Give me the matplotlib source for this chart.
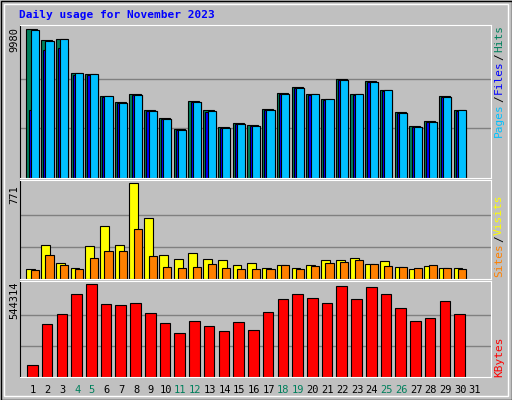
import matplotlib
matplotlib.use("Agg")
import matplotlib.pyplot as plt
from matplotlib.patches import Rectangle

days = list(range(1, 32))
hits = [9980, 9281, 9349, 7061, 6993, 5500, 5092, 5635, 4549, 4006, 3259, 5160, 4549, 3395, 3666,
        3530, 4617, 5703, 6110, 5635, 5296, 6653, 5635, 6518, 5907, 4413, 3462, 3802, 5500, 4549]
files = [4549, 8620, 8757, 6950, 6950, 5450, 5050, 5560, 4500, 3950, 3220, 5100, 4450, 3360, 3620,
         3500, 4580, 5620, 6020, 5600, 5250, 6560, 5600, 6420, 5860, 4380, 3420, 3780, 5420, 4500]
pages = [9960, 9200, 9330, 7040, 6960, 5480, 5070, 5560, 4530, 3950, 3250, 5130, 4480, 3380, 3630,
         3520, 4600, 5630, 6040, 5620, 5280, 6580, 5620, 6450, 5890, 4400, 3440, 3790, 5430, 4540]
visits = [78, 270, 128, 86, 262, 429, 270, 771, 487, 195, 161, 212, 161, 153, 111,
          128, 86, 111, 86, 111, 153, 153, 170, 120, 145, 95, 78, 103, 86, 86]
sites = [70, 195, 111, 78, 170, 228, 228, 404, 186, 95, 86, 95, 120, 86, 78,
         78, 78, 111, 78, 103, 128, 136, 153, 120, 103, 95, 86, 111, 86, 78]
kbytes = [67541, 311880, 365516, 484706, 544314, 425111, 419152, 431071, 371476, 317840,
          258245, 329759, 299962, 270164, 323800, 276124, 377435, 454909, 484706, 460868,
          431071, 532395, 454909, 526435, 484706, 401273, 329759, 341678, 442990, 365516]
weekend = [4, 5, 11, 12, 18, 19, 25, 26]

W, H = 512, 400
fig = plt.figure(figsize=(5.12, 4.0), dpi=100)
fig.patch.set_facecolor("#C0C0C0")
mono = "DejaVu Sans Mono"

def ax_at(x0, y0, x1, y1):
    return fig.add_axes([x0 / W, 1 - y1 / H, (x1 - x0) / W, (y1 - y0) / H])

xl = (0.12, 32.09)
panels = [ax_at(20, 25, 491, 178), ax_at(20, 180, 491, 279), ax_at(20, 281, 491, 377)]
maxes = [9980, 771, 544314]
for ax, m in zip(panels, maxes):
    ax.set_facecolor("#C0C0C0")
    ax.set_xlim(*xl)
    ax.set_ylim(0, m * 1.03)
    for f in (1/3, 2/3):
        ax.axhline(m * f, color="#808080", lw=1, zorder=0)
    ax.set_xticks([]); ax.set_yticks([])
    for side, col in (("top", "white"), ("left", "black"), ("right", "white"), ("bottom", "white")):
        ax.spines[side].set_color(col)

n = len(hits)
x = days[:n]
a1, a2, a3 = panels
a1.bar([d - 0.45 for d in x], hits, width=0.75, align="edge", color="#00805C", edgecolor="black", lw=0.8)
a1.bar([d - 0.3 for d in x], files, width=0.7, align="edge", color="#0000FF", edgecolor="black", lw=0.8)
a1.bar([d - 0.15 for d in x], pages, width=0.55, align="edge", color="#00C0FF", edgecolor="black", lw=0.8)
a2.bar([d - 0.45 for d in x], visits, width=0.6, align="edge", color="#FFFF00", edgecolor="black", lw=0.8)
a2.bar([d - 0.15 for d in x], sites, width=0.55, align="edge", color="#FF8000", edgecolor="black", lw=0.8)
a3.bar([d - 0.4 for d in x], kbytes, width=0.72, align="edge", color="#FF0000", edgecolor="black", lw=0.8)

for d in days:
    a3.text(d, -0.08, str(d), transform=a3.get_xaxis_transform(), ha="center", va="top",
            fontsize=7.5, family=mono, color="#00805C" if d in weekend else "black")

fig.text(19 / W, 1 - 15 / H, "Daily usage for November 2023", family=mono, fontsize=8,
         weight="bold", color="#0000FF", va="center")
fig.text(14 / W, 1 - 40 / H, "9980", rotation=90, family=mono, fontsize=7.5, ha="center", va="center")
fig.text(14 / W, 1 - 195 / H, "771", rotation=90, family=mono, fontsize=7.5, ha="center", va="center")
fig.text(14 / W, 1 - 300 / H, "544314", rotation=90, family=mono, fontsize=7.5, ha="center", va="center")

fig.canvas.draw()
renderer = fig.canvas.get_renderer()

def vlabel(parts, y_bottom):
    y = y_bottom
    for txt, col in parts:
        t = fig.text(499 / W, 1 - y / H, txt, rotation=90, family=mono, fontsize=8,
                     color=col, ha="center", va="bottom")
        bb = t.get_window_extent(renderer)
        y -= bb.height + 1
vlabel([("Pages", "#00C0FF"), ("/", "black"), ("Files", "#0000FF"), ("/", "black"), ("Hits", "#00805C")], 137)
vlabel([("Sites", "#FF8000"), ("/", "black"), ("Visits", "#FFFF00")], 277)
vlabel([("KBytes", "#FF0000")], 377)

fig.add_artist(Rectangle((0.5 / W, 0.5 / H), 1 - 1 / W, 1 - 1 / H, transform=fig.transFigure,
                         fill=False, edgecolor="black", lw=1))
fig.add_artist(Rectangle((4 / W, 4 / H), 1 - 8 / W, 1 - 8 / H, transform=fig.transFigure,
                         fill=False, edgecolor="white", lw=1))
fig.savefig("out.png", dpi=100, facecolor=fig.get_facecolor())
